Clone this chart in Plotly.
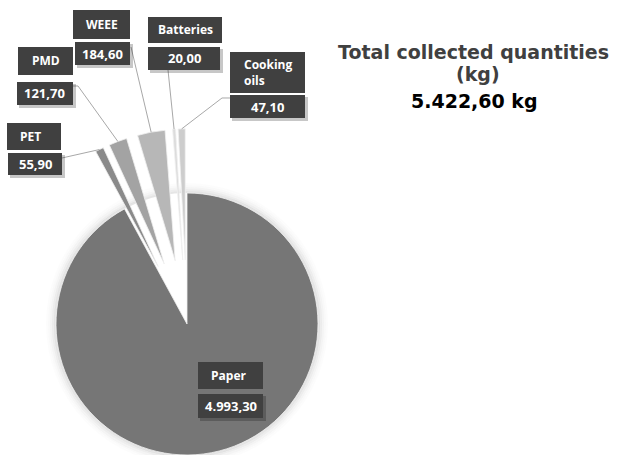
import math
import plotly.graph_objects as go

# ---------------- data ----------------
categories = ["Paper", "PET", "PMD", "WEEE", "Batteries", "Cooking oils"]
values = [4993.30, 55.90, 121.70, 184.60, 20.00, 47.10]
value_labels = ["4.993,30", "55,90", "121,70", "184,60", "20,00", "47,10"]
name_labels = ["Paper", "PET", "PMD", "WEEE", "Batteries", "Cooking<br>oils"]
title_lines = ["Total collected quantities", "(kg)"]
total_label = "5.422,60 kg"

# ---------------- styling / layout ----------------
colors = ["#767676", "#8a8a8a", "#a3a3a3", "#b7b7b7", "#dcdcdc", "#cdcdcd"]
pulls = [0.0, 0.49, 0.49, 0.49, 0.49, 0.49]
W, H = 617, 455
CX, CY, R = 187.0, 324.0, 131.0
BOX = "#404040"
LEADER = "#a8a8a8"
FONT = "Open Sans"
TITLE_FONT = "DejaVu Sans"

name_boxes = {
    "Paper": (198, 362, 263, 389), "PET": (7, 123, 61, 150), "PMD": (18, 47, 73, 75),
    "WEEE": (73, 10, 130, 39), "Batteries": (148, 17, 222, 43), "Cooking oils": (230, 52, 305, 93),
}
value_boxes = {
    "Paper": (198, 394, 263, 418), "PET": (8, 153, 62, 175), "PMD": (17, 82, 73, 105),
    "WEEE": (75, 42, 130, 65), "Batteries": (148, 47, 220, 70), "Cooking oils": (230, 95, 305, 118),
}
name_left = {"Paper": 209, "PET": 18, "Cooking oils": 242}
leader_start = {
    "PET": [(62, 158)], "PMD": [(73, 86), (78, 86)], "WEEE": [(131, 47)],
    "Batteries": [(168, 70)], "Cooking oils": [(230, 98), (222, 98)],
}


def px(x):
    return x / W


def py(y):
    return 1 - y / H


total = sum(values)
mids = []
cum = 0.0
for v in values:
    a0 = cum / total * 360
    cum += v
    a1 = cum / total * 360
    mids.append((a0 + a1) / 2)

shapes = []
annotations = []

# soft halo behind the main pie
for k, a in [(1, 0.10), (3, 0.07), (5, 0.045), (7, 0.025), (9, 0.012)]:
    shapes.append(dict(type="circle", xref="paper", yref="paper",
                       x0=px(CX - R - k), x1=px(CX + R + k),
                       y0=py(CY + R + k), y1=py(CY - R - k),
                       line=dict(color=f"rgba(0,0,0,{a})", width=2.2), layer="below"))

fig = go.Figure()
centers = []
for i, cat in enumerate(categories):
    th = math.radians(mids[i])
    cx = CX + pulls[i] * R * math.sin(th)
    cy = CY - pulls[i] * R * math.cos(th)
    centers.append((cx, cy))
    cols = [colors[j] if j == i else "rgba(0,0,0,0)" for j in range(len(values))]
    lcols = ["#f0f0f0" if j == i else "rgba(0,0,0,0)" for j in range(len(values))]
    fig.add_trace(go.Pie(
        values=values, labels=categories, sort=False, direction="clockwise", rotation=0,
        marker=dict(colors=cols, line=dict(color=lcols, width=0.8)),
        textinfo="none", hoverinfo="skip", showlegend=False,
        domain=dict(x=[max(0, px(cx - R)), min(1, px(cx + R))],
                    y=[max(0, py(cy + R)), min(1, py(cy - R))]),
    ))

# leader lines (end at slice outer-arc midpoints computed from data)
for i, cat in enumerate(categories):
    if cat not in leader_start:
        continue
    th = math.radians(mids[i])
    cx, cy = centers[i]
    ex = cx + R * math.sin(th)
    ey = cy - R * math.cos(th)
    pts = leader_start[cat] + [(ex, ey)]
    path = "M " + " L ".join(f"{px(x):.5f},{py(y):.5f}" for x, y in pts)
    shapes.append(dict(type="path", xref="paper", yref="paper", path=path,
                       line=dict(color=LEADER, width=1), layer="above"))

for i, cat in enumerate(categories):
    x0, y0, x1, y1 = value_boxes[cat]
    shapes.append(dict(type="rect", xref="paper", yref="paper",
                       x0=px(x0 + 2), x1=px(x1 + 3), y0=py(y1 + 3), y1=py(y0 + 2),
                       fillcolor="rgba(0,0,0,0.22)", line=dict(width=0), layer="above"))
    shapes.append(dict(type="rect", xref="paper", yref="paper",
                       x0=px(x0), x1=px(x1), y0=py(y1), y1=py(y0),
                       fillcolor=BOX, line=dict(width=0), layer="above"))
    annotations.append(dict(x=px((x0 + x1) / 2), y=py((y0 + y1) / 2), xref="paper", yref="paper",
                            xanchor="center", yanchor="middle", showarrow=False,
                            text=f"<b>{value_labels[i]}</b>",
                            font=dict(family=FONT, size=13, color="white")))
    x0, y0, x1, y1 = name_boxes[cat]
    shapes.append(dict(type="rect", xref="paper", yref="paper",
                       x0=px(x0), x1=px(x1), y0=py(y1), y1=py(y0),
                       fillcolor=BOX, line=dict(width=0), layer="above"))
    if cat in name_left:
        ax, anc = name_left[cat], "left"
    else:
        ax, anc = (x0 + x1) / 2, "center"
    annotations.append(dict(x=px(ax), y=py((y0 + y1) / 2), xref="paper", yref="paper",
                            xanchor=anc, yanchor="middle", showarrow=False, align="left",
                            text=f"<b>{name_labels[i]}</b>",
                            font=dict(family=FONT, size=12, color="white")))

# title block
annotations.append(dict(x=px(473), y=py(52), xref="paper", yref="paper", xanchor="center",
                        yanchor="middle", showarrow=False, text=f"<b>{title_lines[0]}</b>",
                        font=dict(family=TITLE_FONT, size=19, color="#404040")))
annotations.append(dict(x=px(478), y=py(74), xref="paper", yref="paper", xanchor="center",
                        yanchor="middle", showarrow=False, text=f"<b>{title_lines[1]}</b>",
                        font=dict(family=TITLE_FONT, size=19, color="#404040")))
annotations.append(dict(x=px(475), y=py(101), xref="paper", yref="paper", xanchor="center",
                        yanchor="middle", showarrow=False, text=f"<b>{total_label}</b>",
                        font=dict(family=TITLE_FONT, size=19, color="#000000")))

fig.update_layout(
    width=W, height=H, margin=dict(l=0, r=0, t=0, b=0),
    paper_bgcolor="white", plot_bgcolor="white",
    shapes=shapes, annotations=annotations,
)

fig.write_html("out.html")
